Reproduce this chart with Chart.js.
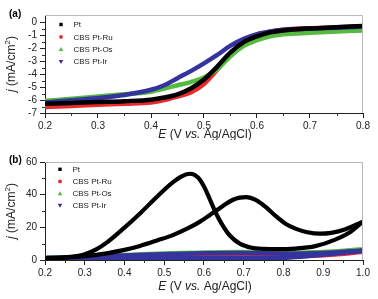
<!DOCTYPE html>
<html>
<head>
<meta charset="utf-8">
<script src="https://cdn.jsdelivr.net/npm/chart.js@4.4.0/dist/chart.umd.min.js"></script>
<style>
  html, body { margin: 0; padding: 0; background: #fff; }
  #chartA { position: absolute; left: 0; top: 0; }
  #chartB { position: absolute; left: 0; top: 140px; }
</style>
</head>
<body>
<canvas id="chartA" width="378" height="140"></canvas>
<canvas id="chartB" width="378" height="159"></canvas>
<script>
const FONT = '"Liberation Sans", Arial, sans-serif';

const seriesNames = ['Pt', 'CBS Pt-Ru', 'CBS Pt-Os', 'CBS Pt-Ir'];
const seriesColors = ['#000000', '#ec2a2a', '#55bb40', '#35339d'];
const markerStyles = ['rect', 'circle', 'triangle', 'triangleDown'];

// (a) linear sweep, j vs E
const lsvE  = [0.2, 0.25, 0.3, 0.35, 0.4, 0.425, 0.45, 0.475, 0.5, 0.525, 0.55, 0.575, 0.6, 0.625, 0.65, 0.7, 0.75, 0.8];
const lsvPt = [-6.28, -6.22, -6.15, -6.08, -5.97, -5.8, -5.55, -5.1, -4.4, -3.4, -2.3, -1.5, -1.05, -0.75, -0.6, -0.45, -0.35, -0.25];
const lsvRu = [-6.54, -6.45, -6.36, -6.28, -6.18, -6.0, -5.72, -5.4, -4.75, -3.65, -2.45, -1.45, -0.95, -0.7, -0.55, -0.42, -0.35, -0.3];
const lsvOs = [-6.05, -5.9, -5.72, -5.55, -5.35, -5.1, -4.85, -4.6, -4.25, -3.6, -2.6, -1.8, -1.35, -1.05, -0.9, -0.78, -0.68, -0.6];
const lsvIr = [-6.18, -6.02, -5.84, -5.6, -5.2, -4.85, -4.3, -3.75, -3.15, -2.5, -1.78, -1.25, -0.88, -0.68, -0.55, -0.45, -0.38, -0.3];
const xTicksA = [0.2, 0.3, 0.4, 0.5, 0.6, 0.7, 0.8];
const yTicksA = [-7, -6, -5, -4, -3, -2, -1, 0];

// (b) cyclic voltammograms
// Pt: forward sweep and backward sweep (backward listed from low to high E)
const cvPtFwdE = [0.2, 0.25, 0.28, 0.3, 0.33, 0.355, 0.397, 0.439, 0.481, 0.523, 0.545, 0.565, 0.585, 0.6, 0.615, 0.628, 0.645, 0.665, 0.69, 0.72, 0.75, 0.783, 0.83, 0.88, 0.93, 0.97, 1.0];
const cvPtFwdJ = [1.2, 1.6, 2.4, 3.5, 6.6, 10.6, 19.2, 28.5, 38.6, 47.8, 51.4, 52.8, 50.5, 45, 37, 29.7, 22, 15, 10, 7.5, 6.8, 6.6, 7, 8.5, 12.5, 17.5, 23.5];
const cvPtBwdE = [0.2, 0.25, 0.3, 0.355, 0.4, 0.439, 0.48, 0.523, 0.56, 0.59, 0.615, 0.628, 0.65, 0.673, 0.69, 0.707, 0.73, 0.755, 0.78, 0.805, 0.83, 0.86, 0.892, 0.92, 0.95, 0.97, 1.0];
const cvPtBwdJ = [1.0, 1.5, 2.4, 4.1, 6.2, 8.6, 11.8, 15.4, 19.5, 23.5, 27.6, 29.7, 33.5, 36.9, 38.2, 38.5, 36.8, 32.5, 27, 22.2, 19.2, 17, 16.1, 16.6, 18.3, 20.3, 23.5];
// CBS catalysts: small loops, forward then backward
const cvLoopE = [0.2, 0.3, 0.4, 0.5, 0.6, 0.7, 0.8, 0.9, 1.0, 0.9, 0.8, 0.7, 0.6, 0.5, 0.4, 0.3, 0.2];
const cvRuJ = [1.0, 1.5, 2.4, 3.0, 3.4, 3.5, 3.2, 3.5, 4.8, 2.8, 2.1, 2.0, 2.0, 1.8, 1.4, 1.1, 1.0];
const cvOsJ = [1.5, 2.2, 3.2, 4.1, 4.8, 5.0, 4.6, 5.0, 6.6, 3.6, 2.0, 1.8, 1.6, 1.4, 1.2, 1.1, 1.1];
const cvIrJ = [1.2, 1.8, 2.8, 3.5, 4.1, 4.3, 3.9, 4.3, 5.8, 3.2, 1.3, 1.1, 1.1, 1.1, 1.0, 1.0, 1.0];
const xTicksB = [0.2, 0.3, 0.4, 0.5, 0.6, 0.7, 0.8, 0.9, 1.0];
const yTicksB = [0, 20, 40, 60];

function pts(xs, ys) {
    return xs.map((x, i) => ({ x: x, y: ys[i] }));
}

function line(ctx, x1, y1, x2, y2) {
    ctx.beginPath();
    ctx.moveTo(x1, y1);
    ctx.lineTo(x2, y2);
    ctx.stroke();
}

// draws a string made of plain / italic / superscript pieces
function drawRich(ctx, parts, cx, cy, size) {
    const fontOf = p => (p.i ? 'italic ' : '') + (p.sup ? Math.round(size * 0.65) : size) + 'px ' + FONT;
    let total = 0;
    parts.forEach(p => { ctx.font = fontOf(p); total += ctx.measureText(p.t).width; });
    let x = cx - total / 2;
    ctx.textBaseline = 'middle';
    ctx.textAlign = 'left';
    parts.forEach(p => {
        ctx.font = fontOf(p);
        ctx.fillText(p.t, x, p.sup ? cy - size * 0.35 : cy);
        x += ctx.measureText(p.t).width;
    });
}

function drawMarker(ctx, style, x, y, color) {
    ctx.fillStyle = color;
    ctx.beginPath();
    if (style === 'rect') {
        ctx.rect(x - 1.7, y - 1.7, 3.4, 3.4);
    } else if (style === 'circle') {
        ctx.arc(x, y, 1.9, 0, Math.PI * 2);
    } else if (style === 'triangle') {
        ctx.moveTo(x, y - 2.2); ctx.lineTo(x + 2.3, y + 1.8); ctx.lineTo(x - 2.3, y + 1.8); ctx.closePath();
    } else {
        ctx.moveTo(x, y + 2.2); ctx.lineTo(x + 2.3, y - 1.8); ctx.lineTo(x - 2.3, y - 1.8); ctx.closePath();
    }
    ctx.fill();
}

const xTitle = [{ t: 'E', i: true }, { t: ' (V ' }, { t: 'vs.', i: true }, { t: ' Ag/AgCl)' }];
const yTitle = [{ t: 'j', i: true }, { t: ' (mA/cm' }, { t: '2', sup: true }, { t: ')' }];

function decor(cfg) {
    return {
        id: 'decor' + cfg.tag,
        afterDraw(chart) {
            const ctx = chart.ctx;
            const a = chart.chartArea;
            const xs = chart.scales.x, ys = chart.scales.y;
            ctx.save();
            // light frame on top and right
            ctx.strokeStyle = '#b8b8b8';
            ctx.lineWidth = 1;
            ctx.beginPath();
            ctx.moveTo(a.left, a.top + 0.5);
            ctx.lineTo(a.right - 0.5, a.top + 0.5);
            ctx.lineTo(a.right - 0.5, a.bottom);
            ctx.stroke();
            // minor ticks halfway between the major ones
            ctx.strokeStyle = '#333';
            for (let i = 0; i < cfg.xTicks.length - 1; i++) {
                const px = Math.round(xs.getPixelForValue((cfg.xTicks[i] + cfg.xTicks[i + 1]) / 2)) + 0.5;
                line(ctx, px, a.bottom, px, a.bottom + 3);
            }
            for (let i = 0; i < cfg.yTicks.length - 1; i++) {
                const py = Math.round(ys.getPixelForValue((cfg.yTicks[i] + cfg.yTicks[i + 1]) / 2)) + 0.5;
                line(ctx, a.left - 3, py, a.left, py);
            }
            // axis titles
            ctx.fillStyle = '#222';
            drawRich(ctx, xTitle, (a.left + a.right) / 2 + 1, cfg.xTitleY, 12);
            ctx.save();
            ctx.translate(12, (a.top + a.bottom) / 2);
            ctx.rotate(-Math.PI / 2);
            drawRich(ctx, yTitle, 0, 0, 12);
            ctx.restore();
            // panel label
            ctx.font = 'bold 10px ' + FONT;
            ctx.textAlign = 'left';
            ctx.textBaseline = 'middle';
            ctx.fillStyle = '#000';
            ctx.fillText(cfg.tag, 9, cfg.tagY);
            // legend
            ctx.font = '8px ' + FONT;
            seriesNames.forEach((name, i) => {
                const ly = cfg.legendY + i * cfg.legendStep;
                drawMarker(ctx, markerStyles[i], cfg.legendX, ly, seriesColors[i]);
                ctx.fillStyle = '#222';
                ctx.fillText(name, cfg.legendX + 12.5, ly + 0.5);
            });
            ctx.restore();
        }
    };
}

function axisOpts(ticks, fmt, side, size) {
    return {
        type: 'linear',
        min: ticks[0],
        max: ticks[ticks.length - 1],
        border: { display: true, color: '#222', width: 1 },
        grid: { display: true, drawOnChartArea: false, drawTicks: true, tickLength: 5, color: '#222' },
        ticks: {
            color: '#222',
            font: { family: FONT, size: 10 },
            padding: side === 'x' ? 2 : 3,
            maxRotation: 0,
            autoSkip: false,
            callback: v => fmt(v)
        },
        afterBuildTicks: s => { s.ticks = ticks.map(v => ({ value: v })); },
        afterFit: s => { if (side === 'x') s.height = size; else s.width = size; }
    };
}

function lineSet(label, data, color, order, width, mono) {
    return {
        label: label,
        data: data,
        borderColor: color,
        backgroundColor: color,
        borderWidth: width,
        pointRadius: 0,
        showLine: true,
        order: order,
        tension: mono ? 0 : 0.35,
        cubicInterpolationMode: mono ? 'monotone' : 'default',
        borderCapStyle: 'round',
        borderJoinStyle: 'round'
    };
}

const common = {
    responsive: false,
    animation: false,
    events: [],
    plugins: { legend: { display: false }, tooltip: { enabled: false } }
};

// panel (a)
const yA = axisOpts(yTicksA, v => String(v), 'y', 45);
yA.max = 0.6;
new Chart(document.getElementById('chartA').getContext('2d'), {
    type: 'scatter',
    data: {
        datasets: [
            lineSet(seriesNames[0], pts(lsvE, lsvPt), seriesColors[0], 0, 4.5, true),
            lineSet(seriesNames[1], pts(lsvE, lsvRu), seriesColors[1], 3, 4.5, true),
            lineSet(seriesNames[2], pts(lsvE, lsvOs), seriesColors[2], 2, 4.5, true),
            lineSet(seriesNames[3], pts(lsvE, lsvIr), seriesColors[3], 1, 4.5, true)
        ]
    },
    options: Object.assign({}, common, {
        layout: { padding: { left: 0, right: 15, top: 15, bottom: 0 } },
        scales: {
            x: axisOpts(xTicksA, v => v.toFixed(1), 'x', 27),
            y: yA
        }
    }),
    plugins: [decor({ tag: '(a)', tagY: 14.5, xTicks: xTicksA, yTicks: yTicksA, xTitleY: 134.5,
                      legendX: 61, legendY: 24.5, legendStep: 12.4 })]
});

// panel (b)
new Chart(document.getElementById('chartB').getContext('2d'), {
    type: 'scatter',
    data: {
        datasets: [
            lineSet(seriesNames[0], pts(cvPtFwdE, cvPtFwdJ), seriesColors[0], 0, 4.2, true),
            lineSet(seriesNames[0], pts(cvPtBwdE, cvPtBwdJ), seriesColors[0], 0, 4.2, true),
            lineSet(seriesNames[1], pts(cvLoopE, cvRuJ), seriesColors[1], 2, 4, false),
            lineSet(seriesNames[2], pts(cvLoopE, cvOsJ), seriesColors[2], 3, 4, false),
            lineSet(seriesNames[3], pts(cvLoopE, cvIrJ), seriesColors[3], 1, 4.5, false)
        ]
    },
    options: Object.assign({}, common, {
        layout: { padding: { left: 0, right: 15, top: 22, bottom: 0 } },
        scales: {
            x: axisOpts(xTicksB, v => v.toFixed(1), 'x', 39),
            y: axisOpts(yTicksB, v => String(v), 'y', 45)
        }
    }),
    plugins: [decor({ tag: '(b)', tagY: 20.5, xTicks: xTicksB, yTicks: yTicksB, xTitleY: 147,
                      legendX: 60, legendY: 29.3, legendStep: 12.1 })]
});
</script>
</body>
</html>
